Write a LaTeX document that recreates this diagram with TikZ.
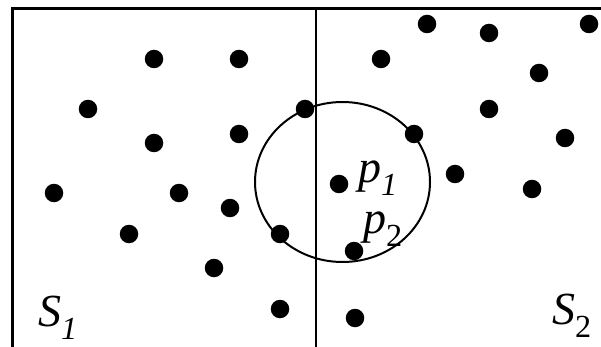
\documentclass[tikz,border=0pt]{standalone}
\usepackage{fontspec}
\setmainfont{Liberation Serif}[ItalicFont=Liberation Serif Italic]
\begin{document}
\begin{tikzpicture}[x=1pt,y=-1pt,
  pt/.style={circle,fill=black,inner sep=0pt,minimum size=18.5pt},
  lbl/.style={inner sep=0pt,font=\fontsize{46}{48}\selectfont\itshape}]
\useasboundingbox (0,0) rectangle (601,347);
\begin{scope}
\clip (0,0) rectangle (601,347);
\draw[line width=3pt] (12,9) rectangle (660,400);
\draw[line width=2pt] (316,9) -- (316,360);
\draw[line width=2pt] (342.5,182) ellipse [x radius=87.5, y radius=80];
\end{scope}
% left half
\node[pt] (a1) at (154,59) {};
\node[pt] (a2) at (239,59) {};
\node[pt] (a3) at (88,109) {};
\node[pt] (a4) at (305,109) {};
\node[pt] (a5) at (154,143) {};
\node[pt] (a6) at (239,134) {};
\node[pt] (a7) at (54,193) {};
\node[pt] (a8) at (179,193) {};
\node[pt] (a9) at (230,208) {};
\node[pt] (a10) at (129,234) {};
\node[pt] (a11) at (280,234) {};
\node[pt] (a12) at (214,268) {};
\node[pt] (a13) at (280,309) {};
% right half
\node[pt] (b1) at (427,24) {};
\node[pt] (b2) at (489,33) {};
\node[pt] (b3) at (589,24) {};
\node[pt] (b4) at (381,59) {};
\node[pt] (b5) at (539,73) {};
\node[pt] (b6) at (489,109) {};
\node[pt] (b7) at (414,134) {};
\node[pt] (b8) at (565,138) {};
\node[pt] (b9) at (455,174) {};
\node[pt] (p1) at (339,184) {};
\node[pt] (b10) at (532,189) {};
\node[pt] (p2) at (354,251) {};
\node[pt] (b11) at (355,318) {};
% labels
\node[lbl] (s1) at (58,318) {S\textsubscript{1}};
\node[lbl] (s2) at (572,316) {S\textsubscript{\upshape 2}};
\node[lbl] (l1) at (378,178) {p\textsubscript{1}};
\node[lbl] (l2) at (383,229) {p\textsubscript{\upshape 2}};
\end{tikzpicture}
\end{document}
